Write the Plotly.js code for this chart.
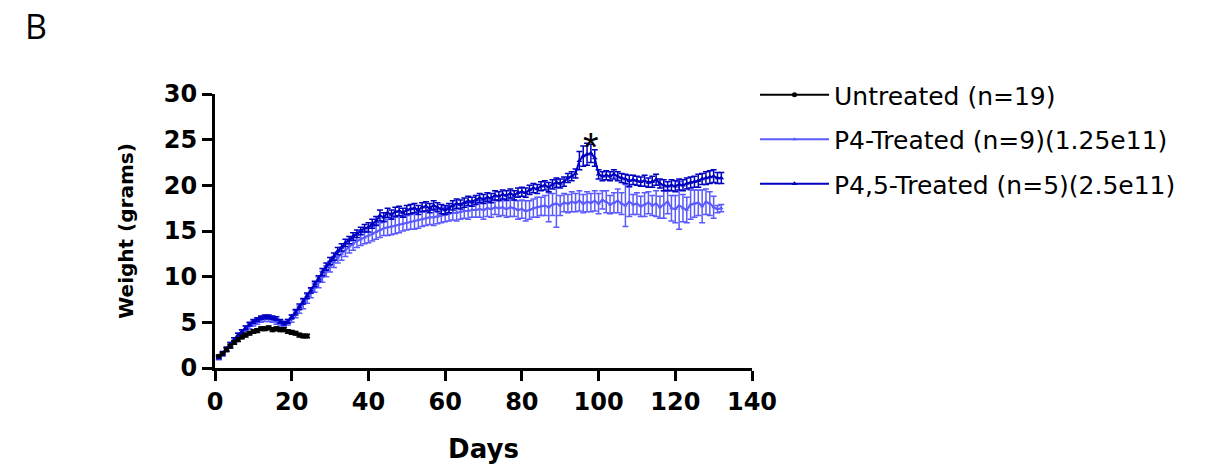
<!DOCTYPE html>
<html>
<head>
<meta charset="utf-8">
<script src="https://cdn.plot.ly/plotly-3.0.1.min.js"></script>
<style>html,body{margin:0;padding:0;background:#fff;}#chart{width:1218px;height:469px;}</style>
</head>
<body>
<div id="chart"></div>
<script>
// ---- Data ----
const untreatedDays = [1,2,3,4,5,6,7,8,9,10,11,12,13,14,15,16,17,18,19,20,21,22,23,24];
const untreatedWeight = [1.3,1.6,2.0,2.4,2.8,3.1,3.4,3.6,3.8,4.0,4.1,4.3,4.3,4.4,4.2,4.3,4.2,4.2,4.0,3.9,3.8,3.6,3.5,3.5];
const untreatedErr = [0.1,0.1,0.2,0.2,0.2,0.2,0.2,0.2,0.2,0.2,0.2,0.2,0.2,0.2,0.2,0.2,0.2,0.2,0.2,0.2,0.2,0.2,0.2,0.2];

const treatedDays = [1,2,3,4,5,6,7,8,9,10,11,12,13,14,15,16,17,18,19,20,
  21,22,23,24,25,26,27,28,29,30,31,32,33,34,35,36,37,38,39,40,
  41,42,43,44,45,46,47,48,49,50,51,52,53,54,55,56,57,58,59,60,
  61,62,63,64,65,66,67,68,69,70,71,72,73,74,75,76,77,78,79,80,
  81,82,83,84,85,86,87,88,89,90,91,92,93,94,95,96,97,98,99,100,
  101,102,103,104,105,106,107,108,109,110,111,112,113,114,115,116,117,118,119,120,
  121,122,123,124,125,126,127,128,129,130,131,132];

const p4Weight = [1.1,1.5,2.0,2.5,3.0,3.5,3.9,4.3,4.6,4.9,5.1,5.3,5.4,5.4,5.3,5.1,4.9,4.8,5.0,5.4,
  5.9,6.4,7.0,7.6,8.2,8.8,9.4,10.0,10.6,11.1,11.6,12.1,12.5,12.9,13.3,13.6,13.9,14.1,14.3,14.5,
  14.7,14.9,15.1,15.3,15.4,15.5,15.6,15.7,15.8,15.9,16.0,16.1,16.2,16.3,16.4,16.5,16.5,16.6,16.7,16.8,
  16.9,17.0,17.0,17.1,17.2,17.2,17.3,17.3,17.4,17.3,17.5,17.4,17.6,17.5,17.6,17.4,17.6,17.5,17.3,17.4,
  17.2,17.3,17.5,17.6,17.7,17.8,17.6,17.9,18.0,17.8,18.1,18.0,18.2,18.1,18.3,18.0,18.2,18.1,18.3,18.0,
  18.4,18.2,17.9,18.1,18.3,18.0,17.8,18.2,17.9,18.0,17.7,17.9,18.1,17.8,18.0,17.6,17.9,18.2,17.5,17.4,
  17.8,17.5,17.3,17.9,18.0,18.1,17.7,18.2,18.0,17.6,17.4,17.5];
const p4Err = [0.2,0.2,0.2,0.3,0.3,0.3,0.3,0.3,0.3,0.3,0.3,0.3,0.3,0.3,0.3,0.3,0.3,0.3,0.3,0.4,
  0.4,0.4,0.5,0.5,0.5,0.5,0.6,0.6,0.6,0.6,0.6,0.6,0.7,0.7,0.7,0.7,0.7,0.7,0.7,0.8,
  0.8,0.8,0.8,0.8,0.9,0.9,0.9,0.9,0.8,0.8,0.8,0.9,0.9,0.8,0.8,0.8,0.9,0.8,0.8,0.8,
  0.8,0.8,0.9,0.8,0.8,0.9,0.8,0.8,0.9,1.0,0.9,0.9,0.8,0.9,0.9,0.9,1.0,0.9,1.0,1.0,
  1.1,1.0,1.0,1.1,1.0,1.1,1.6,1.2,2.6,1.1,1.0,1.0,1.1,1.0,1.1,1.0,1.1,1.0,1.1,1.1,
  1.0,1.2,1.0,1.1,1.3,1.2,2.3,1.6,1.1,1.2,1.1,1.3,1.2,1.1,1.4,1.2,1.5,1.3,1.4,1.5,
  2.6,1.5,1.4,1.6,1.5,1.4,1.8,1.4,1.3,1.2,0.4,0.4];

const p45Weight = [1.2,1.6,2.1,2.6,3.1,3.6,4.0,4.4,4.8,5.1,5.3,5.5,5.6,5.6,5.5,5.4,5.1,4.9,5.1,5.6,
  6.1,6.7,7.3,7.9,8.5,9.2,9.8,10.5,11.1,11.7,12.2,12.8,13.2,13.7,14.0,14.4,14.7,15.0,15.3,15.4,
  15.8,16.1,16.7,16.5,17.0,16.8,17.1,17.2,17.0,17.3,17.4,17.5,17.3,17.6,17.7,17.5,17.8,17.6,17.4,17.3,
  17.5,17.8,18.0,17.9,18.1,18.3,18.2,18.4,18.6,18.5,18.7,18.6,18.9,18.8,19.0,18.9,19.1,18.9,19.2,19.3,
  19.2,19.5,19.7,19.6,19.9,20.0,19.8,20.1,20.3,20.2,20.4,20.8,21.0,21.3,22.7,23.2,23.4,23.5,23.0,21.2,
  21.0,21.1,21.0,21.2,21.0,20.8,20.7,20.5,20.6,20.5,20.4,20.5,20.3,20.4,20.6,20.2,20.0,19.9,20.0,19.9,
  20.1,20.0,20.2,20.3,20.4,20.5,20.7,20.8,20.9,21.0,20.8,20.8];
const p45Err = [0.2,0.2,0.2,0.2,0.2,0.2,0.2,0.2,0.2,0.2,0.2,0.2,0.2,0.2,0.2,0.2,0.2,0.2,0.2,0.2,
  0.3,0.3,0.3,0.3,0.3,0.3,0.3,0.4,0.4,0.4,0.4,0.4,0.4,0.4,0.4,0.4,0.4,0.4,0.4,0.5,
  0.5,0.5,0.6,0.5,0.5,0.5,0.5,0.5,0.5,0.5,0.5,0.5,0.5,0.5,0.5,0.5,0.5,0.5,0.5,0.5,
  0.5,0.5,0.5,0.5,0.5,0.5,0.5,0.5,0.5,0.5,0.5,0.5,0.5,0.5,0.5,0.5,0.5,0.5,0.5,0.5,
  0.5,0.5,0.5,0.5,0.5,0.5,0.5,0.5,0.5,0.5,0.5,0.5,0.5,0.5,1.0,1.1,1.2,1.0,0.9,0.5,
  0.5,0.5,0.5,0.5,0.5,0.5,0.5,0.6,0.5,0.5,0.5,0.6,0.5,0.6,0.6,0.5,0.6,0.5,0.6,0.6,
  0.6,0.6,0.6,0.6,0.6,0.7,0.6,0.7,0.7,0.7,0.6,0.6];

const seriesNames = ["Untreated (n=19)", "P4-Treated (n=9)(1.25e11)", "P4,5-Treated (n=5)(2.5e11)"];
const xTickVals = [0,20,40,60,80,100,120,140];
const yTickVals = [0,5,10,15,20,25,30];
const panelLabel = "B";
const xTitle = "Days";
const yTitle = "Weight (grams)";
const sigText = "*";
const sigDay = 98;

// ---- Styles ----
const cBlack = "#000000";
const cLight = "#5a5aff";
const cDark = "#0000c0";
const fontFam = "'DejaVu Sans', sans-serif";

function trace(x, y, err, name, color, symbol, size, rank) {
  return {
    type: "scatter", mode: "lines+markers", x: x, y: y, name: name,
    legendgroup: "g" + rank, legendrank: rank, cliponaxis: false,
    line: {color: color, width: 2},
    marker: {color: color, symbol: symbol, size: size},
    error_y: {type: "data", array: err, visible: true, color: color, thickness: 1.5, width: 3}
  };
}

const tUntreated = trace(untreatedDays, untreatedWeight, untreatedErr, seriesNames[0], cBlack, "circle", 5, 1);
const tP4 = trace(treatedDays, p4Weight, p4Err, seriesNames[1], cLight, "triangle-up", 4, 2);
const tP45 = trace(treatedDays, p45Weight, p45Err, seriesNames[2], cDark, "triangle-up", 5, 3);

const axisCommon = {
  showgrid: false, zeroline: false, showline: true, linecolor: "#000", linewidth: 3,
  ticks: "outside", ticklen: 10, tickwidth: 3, tickcolor: "#000",
  tickfont: {family: fontFam, size: 24, color: "#000", weight: "bold"}
};

const layout = {
  width: 1218, height: 469,
  margin: {l: 215, r: 466, t: 94, b: 101},
  paper_bgcolor: "#fff", plot_bgcolor: "#fff",
  showlegend: true,
  legend: {
    x: 1.0056, y: 1.08, xanchor: "left", yanchor: "top",
    font: {family: fontFam, size: 25, color: "#000"},
    traceorder: "grouped", tracegroupgap: 9, itemwidth: 69,
    bgcolor: "rgba(0,0,0,0)"
  },
  xaxis: Object.assign({}, axisCommon, {
    range: [0, 140], tickvals: xTickVals, ticktext: xTickVals.map(String),
    title: {text: xTitle, font: {family: fontFam, size: 26, color: "#000", weight: "bold"}, standoff: 26}
  }),
  yaxis: Object.assign({}, axisCommon, {
    range: [0, 30], tickvals: yTickVals, ticktext: yTickVals.map(String),
    title: {text: yTitle, font: {family: fontFam, size: 20, color: "#000", weight: "bold"}, standoff: 25}
  }),
  annotations: [
    {text: panelLabel, xref: "paper", yref: "paper", x: -0.358, y: 1.34, xanchor: "left", yanchor: "top",
     showarrow: false, font: {family: "'Open Sans', sans-serif", size: 34, color: "#000"}},
    {text: sigText, xref: "x", yref: "y", x: sigDay, y: 24.2, showarrow: false,
     font: {family: "Arial, 'Liberation Sans', sans-serif", size: 40, color: "#000"}, yanchor: "middle"}
  ]
};

Plotly.newPlot("chart", [tP4, tP45, tUntreated], layout, {displayModeBar: false, staticPlot: true});
</script>
</body>
</html>
